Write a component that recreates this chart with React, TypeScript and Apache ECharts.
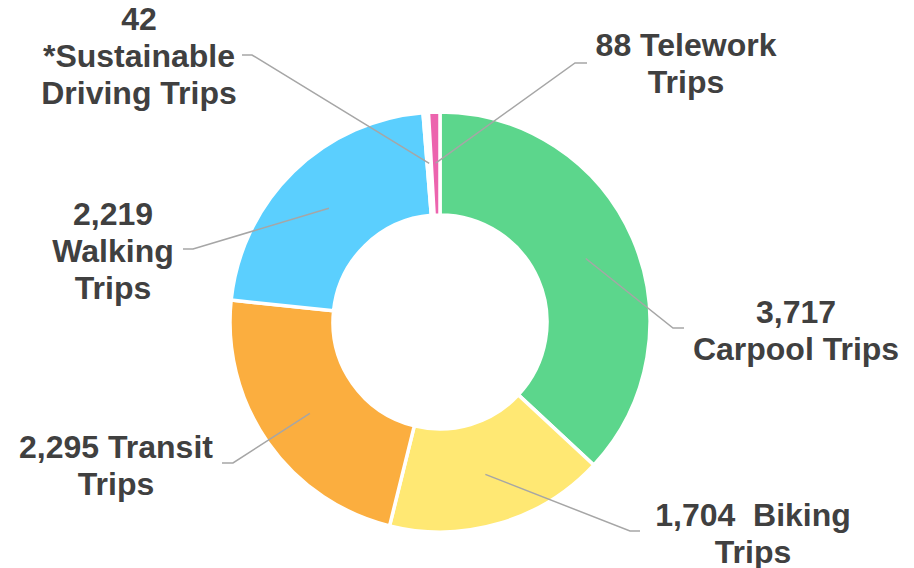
import React, { useEffect, useRef } from "react";
import * as echarts from "echarts";

const categories = ["Carpool", "Biking", "Transit", "Walking", "Sustainable Driving", "Telework"];
const values = [3717, 1704, 2295, 2219, 42, 88];
const labelTemplates = [
  "{v}\nCarpool Trips",
  "{v}  Biking\nTrips",
  "{v} Transit\nTrips",
  "{v}\nWalking\nTrips",
  "{v}\n*Sustainable\nDriving Trips",
  "{v} Telework\nTrips",
];
const colors = ["#5CD68C", "#FFE873", "#FBAE3F", "#5BCFFE", "#FFFFFF", "#EC64AE"];

// label layout: [labelCenterX, labelCenterY, elbowX, elbowY, endX, endY]
const labelLayouts = [
  [796, 330, 673, 328, 684, 328],
  [753, 533, 630, 531, 640, 531],
  [116, 465, 233, 463, 222, 463],
  [113, 251, 193, 249, 183, 249],
  [139, 56, 252, 55, 242, 55],
  [686, 63, 575, 63, 587, 63],
];

export default function App() {
  const ref = useRef<HTMLDivElement>(null);
  useEffect(() => {
    document.body.style.margin = "0";
    const chart = echarts.init(ref.current!, null, { renderer: "svg" });
    const data = categories.map((c, i) => ({
      name: c,
      value: values[i],
      itemStyle: { color: colors[i] },
    }));
    chart.setOption({
      animation: false,
      backgroundColor: "#ffffff",
      series: [
        {
          type: "pie",
          center: [440, 322],
          radius: [107, 210],
          startAngle: 90,
          clockwise: true,
          avoidLabelOverlap: false,
          silent: true,
          label: { show: false },
          labelLine: { show: false },
          itemStyle: { borderColor: "#ffffff", borderWidth: 3.5 },
          data,
          z: 1,
        },
        {
          type: "pie",
          center: [440, 322],
          radius: [0, 159],
          startAngle: 90,
          clockwise: true,
          avoidLabelOverlap: false,
          silent: true,
          z: 5,
          itemStyle: { color: "rgba(0,0,0,0)", borderWidth: 0 },
          data: categories.map((c, i) => ({ name: c, value: values[i] })),
          label: {
            show: true,
            position: "outside",
            formatter: (p: any) =>
              labelTemplates[p.dataIndex].replace("{v}", values[p.dataIndex].toLocaleString("en-US")),
            fontFamily: "'Liberation Sans', Arial, sans-serif",
            fontWeight: "bold",
            fontSize: 32,
            lineHeight: 37,
            color: "#404040",
            align: "center",
          },
          labelLine: {
            show: true,
            length: 10,
            length2: 10,
            lineStyle: { color: "#A6A6A6", width: 1.5 },
          },
          labelLayout: (params: any) => {
            const L = labelLayouts[params.dataIndex];
            const start = params.labelLinePoints ? params.labelLinePoints[0] : [L[2], L[3]];
            return {
              x: L[0],
              y: L[1],
              align: "center",
              verticalAlign: "middle",
              labelLinePoints: [start, [L[2], L[3]], [L[4], L[5]]],
            };
          },
        },
      ],
    });
    return () => chart.dispose();
  }, []);
  return <div ref={ref} style={{ width: 914, height: 568 }} />;
}
